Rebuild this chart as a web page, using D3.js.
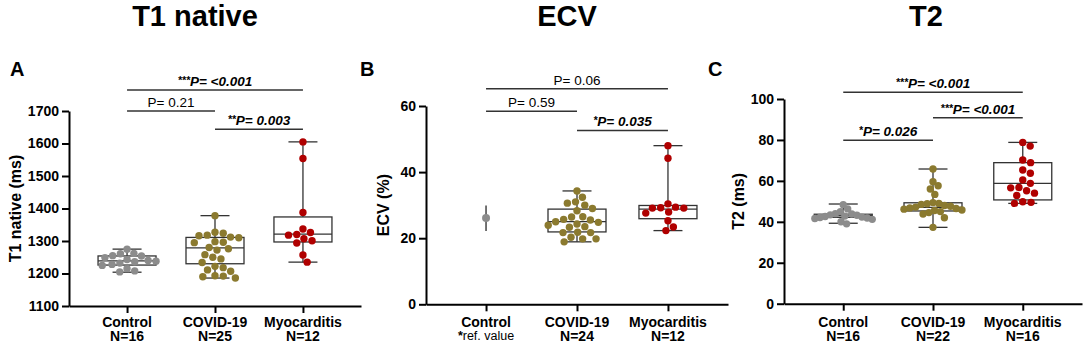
<!DOCTYPE html>
<html>
<head>
<meta charset="utf-8">
<script src="https://cdn.jsdelivr.net/npm/d3@7"></script>
<style>
  body { margin: 0; background: #fff; }
  svg { display: block; font-family: "Liberation Sans", Arial, sans-serif; }
  .axis path, .axis line { stroke: #000; stroke-width: 2; }
  .axis text { font-size: 14px; font-weight: bold; fill: #000; }
</style>
</head>
<body>
<div id="chart"></div>
<script>
// ---- data ----
var groups = ["Control", "COVID-19", "Myocarditis"];
var colors = ["#8c8c8c", "#8b7a2f", "#b00000"];

// T1 native (ms)
var t1Ticks = [1100, 1200, 1300, 1400, 1500, 1600, 1700];
var t1N = ["N=16", "N=25", "N=12"];
var t1Control = [1275, 1262, 1261, 1255, 1254, 1249, 1243, 1240, 1238, 1236, 1232, 1228, 1225, 1215, 1208, 1205];
var t1Covid = [1378, 1327, 1324, 1318, 1316, 1312, 1310, 1298, 1296, 1295, 1280, 1276, 1272, 1258, 1250, 1245,
               1234, 1222, 1218, 1211, 1207, 1193, 1192, 1190, 1186];
var t1Myo = [1605, 1554, 1388, 1337, 1326, 1320, 1318, 1307, 1301, 1294, 1257, 1235];
// min, q1, median, q3, max
var t1Box = [[1204, 1226, 1239, 1254, 1275], [1186, 1230, 1279, 1311, 1378], [1235, 1297, 1321, 1374, 1605]];
var t1Pairs = [[0, 2], [0, 1], [1, 2]];
var t1PText = ["P= <0.001", "P= 0.21", "P= 0.003"];
var t1PStars = ["***", "", "**"];
var t1PLevel = [1765, 1700, 1644];

// ECV (%)
var ecvTicks = [0, 20, 40, 60];
var ecvN = ["ref. value", "N=24", "N=12"];
var ecvRef = [22.2, 26.1, 29.9];   // low, value, high
var ecvCovid = [34.3, 32.4, 31.0, 30.6, 30.0, 29.0, 28.3, 26.5, 26.4, 25.7, 25.5, 25.0, 24.8, 24.3, 23.9, 23.5,
                23.3, 21.8, 21.7, 21.7, 20.3, 19.8, 19.8, 18.9];
var ecvMyo = [48.0, 44.2, 30.4, 29.4, 29.2, 29.1, 29.1, 27.9, 27.6, 25.3, 23.4, 22.3];
var ecvBox = [null, [18.9, 21.9, 25.0, 28.8, 34.3], [22.3, 25.9, 28.8, 29.9, 48.0]];
var ecvPairs = [[0, 2], [0, 1], [1, 2]];
var ecvPText = ["P= 0.06", "P= 0.59", "P= 0.035"];
var ecvPStars = ["", "", "*"];
var ecvPLevel = [65.2, 58.4, 52.6];

// T2 (ms)
var t2Ticks = [0, 20, 40, 60, 80, 100];
var t2N = ["N=16", "N=22", "N=16"];
var t2Control = [48.4, 46.3, 45.0, 44.0, 43.8, 43.4, 43.2, 42.8, 42.6, 42.3, 42.1, 41.9, 41.6, 41.2, 40.0, 39.0];
var t2Covid = [65.8, 59.6, 57.6, 56.0, 53.4, 49.4, 49.0, 48.8, 48.5, 48.0, 47.6, 47.2, 46.8, 46.5, 46.2, 45.8,
               45.5, 45.0, 44.5, 43.8, 42.0, 37.3];
var t2Myo = [78.8, 77.0, 70.2, 68.9, 65.3, 63.7, 60.4, 58.8, 56.8, 56.6, 55.2, 54.0, 52.9, 49.8, 49.5, 49.0];
var t2Box = [[39.3, 42.2, 43.0, 43.7, 48.7], [37.3, 45.3, 47.1, 49.3, 65.8], [49.0, 50.7, 58.8, 68.9, 78.8]];
var t2Pairs = [[0, 2], [1, 2], [0, 1]];
var t2PText = ["P= <0.001", "P= <0.001", "P= 0.026"];
var t2PStars = ["***", "***", "*"];
var t2PLevel = [103.3, 90.9, 79.8];

// ---- drawing ----
var W = 1084, H = 345, R = 3.7, SPREAD = 29;

var svg = d3.select("#chart").append("svg")
    .attr("width", W)
    .attr("height", H);

svg.append("rect").attr("width", W).attr("height", H).attr("fill", "#fff");

// simple beeswarm: place each dot as close to the centre as it can go,
// then squeeze the cloud so it stays roughly inside the box
function swarm(vals, y, cx) {
    var d = 2 * R * 1.12;
    var placed = [];
    vals.slice().sort(function(a, b) { return b - a; }).forEach(function(v) {
        var py = y(v);
        var cands = [0];
        placed.forEach(function(p) {
            var dy = Math.abs(p.y - py);
            if (dy < d) {
                var dx = Math.sqrt(d * d - dy * dy);
                cands.push(p.dx + dx, p.dx - dx);
            }
        });
        cands.sort(function(a, b) { return Math.abs(a) - Math.abs(b); });
        var best = cands.find(function(c) {
            return placed.every(function(p) {
                var ex = p.dx - c, ey = p.y - py;
                return ex * ex + ey * ey >= d * d - 0.01;
            });
        });
        placed.push({dx: best, y: py, v: v});
    });
    var maxDx = d3.max(placed, function(p) { return Math.abs(p.dx); }) || 1;
    var k = Math.min(1, SPREAD / maxDx);
    return placed.map(function(p) { return {x: cx + p.dx * k, y: p.y}; });
}

function panel(cfg) {
    var g = svg.append("g");

    var y = d3.scaleLinear().domain(cfg.domain).range([cfg.yBot, cfg.yTop]);
    var x = d3.scalePoint().domain(groups).range([cfg.x0, cfg.x1]).padding(0.66);

    // axes
    g.append("g")
        .attr("class", "axis")
        .attr("transform", "translate(" + cfg.x0 + ",0)")
        .call(d3.axisLeft(y).tickValues(cfg.ticks).tickFormat(d3.format("d"))
            .tickSize(7).tickSizeOuter(0).tickPadding(3));

    g.append("g")
        .attr("class", "axis")
        .attr("transform", "translate(0," + cfg.yBot + ")")
        .call(d3.axisBottom(x).tickSize(7).tickSizeOuter(0).tickFormat(""));

    // category labels (two lines)
    groups.forEach(function(name, i) {
        g.append("text")
            .attr("x", x(name)).attr("y", 327)
            .attr("text-anchor", "middle")
            .style("font-size", "14px").style("font-weight", "bold")
            .text(name);
        var t = g.append("text")
            .attr("x", x(name)).attr("y", 341)
            .attr("text-anchor", "middle")
            .style("font-size", "14px").style("font-weight", "bold");
        if (cfg.refIndex === i) {
            t.style("font-size", "12.5px").style("font-weight", "normal").attr("y", 340);
            t.append("tspan").style("font-weight", "bold").text("*");
            t.append("tspan").text(cfg.nLabels[i]);
        } else {
            t.text(cfg.nLabels[i]);
        }
    });

    // y label
    g.append("text")
        .attr("transform", "translate(" + cfg.labelX + "," + ((cfg.yTop + cfg.yBot) / 2) + ") rotate(-90)")
        .attr("text-anchor", "middle")
        .attr("dy", "0.35em")
        .style("font-size", "16px").style("font-weight", "bold")
        .text(cfg.yLabel);

    // panel letter + title
    g.append("text")
        .attr("x", cfg.letterX).attr("y", 76)
        .style("font-size", "20px").style("font-weight", "bold")
        .text(cfg.letter);
    g.append("text")
        .attr("x", cfg.titleX).attr("y", 26)
        .attr("text-anchor", "middle")
        .style("font-size", "29px").style("font-weight", "bold")
        .text(cfg.title);

    // boxes
    cfg.boxes.forEach(function(b, i) {
        if (!b) return;
        var cx = x(groups[i]), bw = 58, cw = 29;
        var bg = g.append("g").attr("stroke", "#333").attr("stroke-width", 1.3).attr("fill", "none");
        bg.append("line").attr("x1", cx).attr("x2", cx).attr("y1", y(b[4])).attr("y2", y(b[3]));
        bg.append("line").attr("x1", cx).attr("x2", cx).attr("y1", y(b[1])).attr("y2", y(b[0]));
        bg.append("line").attr("x1", cx - cw / 2).attr("x2", cx + cw / 2).attr("y1", y(b[4])).attr("y2", y(b[4]));
        bg.append("line").attr("x1", cx - cw / 2).attr("x2", cx + cw / 2).attr("y1", y(b[0])).attr("y2", y(b[0]));
        bg.append("rect").attr("x", cx - bw / 2).attr("width", bw)
            .attr("y", y(b[3])).attr("height", y(b[1]) - y(b[3]));
        bg.append("line").attr("x1", cx - bw / 2).attr("x2", cx + bw / 2).attr("y1", y(b[2])).attr("y2", y(b[2]));
    });

    // reference value (ECV control)
    if (cfg.ref) {
        var rx = x(groups[cfg.refIndex]);
        g.append("line").attr("x1", rx).attr("x2", rx)
            .attr("y1", y(cfg.ref[0])).attr("y2", y(cfg.ref[2]))
            .attr("stroke", "#444").attr("stroke-width", 1.5);
        g.append("circle").attr("cx", rx).attr("cy", y(cfg.ref[1])).attr("r", R + 0.3)
            .attr("fill", colors[cfg.refIndex]);
    }

    // dots
    cfg.series.forEach(function(vals, i) {
        if (!vals) return;
        g.append("g").selectAll("circle")
            .data(swarm(vals, y, x(groups[i])))
            .enter().append("circle")
            .attr("cx", function(d) { return d.x; })
            .attr("cy", function(d) { return d.y; })
            .attr("r", R)
            .attr("fill", colors[i]);
    });

    // significance brackets
    cfg.pairs.forEach(function(p, i) {
        var xa = x(groups[p[0]]), xb = x(groups[p[1]]), ly = y(cfg.pLevel[i]);
        g.append("line").attr("x1", xa).attr("x2", xb).attr("y1", ly).attr("y2", ly)
            .attr("stroke", "#333").attr("stroke-width", 1.5);
        var sig = cfg.pStars[i] !== "";
        var t = g.append("text")
            .attr("x", (xa + xb) / 2).attr("y", ly - 4)
            .attr("text-anchor", "middle")
            .style("font-size", "13.5px")
            .style("font-weight", sig ? "bold" : "normal")
            .style("font-style", sig ? "italic" : "normal");
        if (sig) {
            t.append("tspan").style("font-size", "10.5px").attr("dy", -2).text(cfg.pStars[i]);
            t.append("tspan").attr("dy", 2).text(cfg.pText[i]);
        } else {
            t.text(cfg.pText[i]);
        }
    });
}

panel({
    letter: "A", letterX: 10, title: "T1 native", titleX: 195,
    yLabel: "T1 native (ms)", labelX: 15,
    x0: 69, x1: 361, yTop: 111, yBot: 306,
    domain: [1100, 1700], ticks: t1Ticks, nLabels: t1N,
    series: [t1Control, t1Covid, t1Myo], boxes: t1Box,
    pairs: t1Pairs, pText: t1PText, pStars: t1PStars, pLevel: t1PLevel
});

panel({
    letter: "B", letterX: 360, title: "ECV", titleX: 567,
    yLabel: "ECV (%)", labelX: 383,
    x0: 426, x1: 728, yTop: 106, yBot: 304.3,
    domain: [0, 60], ticks: ecvTicks, nLabels: ecvN, refIndex: 0, ref: ecvRef,
    series: [null, ecvCovid, ecvMyo], boxes: ecvBox,
    pairs: ecvPairs, pText: ecvPText, pStars: ecvPStars, pLevel: ecvPLevel
});

panel({
    letter: "C", letterX: 708, title: "T2", titleX: 926,
    yLabel: "T2 (ms)", labelX: 738,
    x0: 784, x1: 1082, yTop: 99, yBot: 303.7,
    domain: [0, 100], ticks: t2Ticks, nLabels: t2N,
    series: [t2Control, t2Covid, t2Myo], boxes: t2Box,
    pairs: t2Pairs, pText: t2PText, pStars: t2PStars, pLevel: t2PLevel
});
</script>
</body>
</html>
